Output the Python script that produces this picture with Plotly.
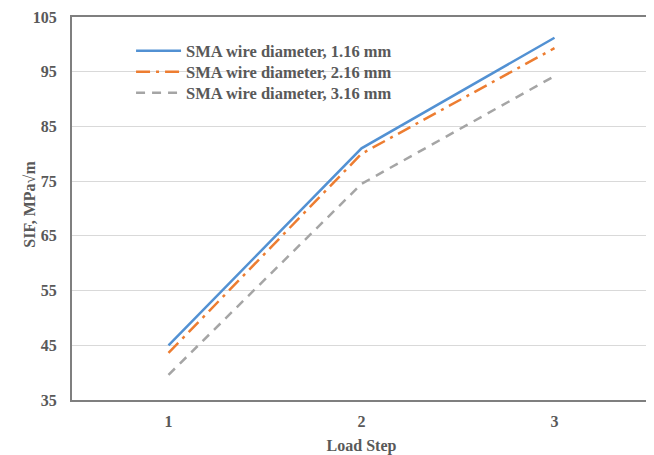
import plotly.graph_objects as go

load_steps = [1, 2, 3]
tick_labels = ["1", "2", "3"]
series_names = ["SMA wire diameter, 1.16 mm", "SMA wire diameter, 2.16 mm", "SMA wire diameter, 3.16 mm"]
sif_116 = [45.0, 81.0, 101.2]
sif_216 = [43.6, 80.0, 99.3]
sif_316 = [39.6, 74.5, 94.2]

colors = ["#5291D3", "#ED7D31", "#A5A5A5"]
dashes = ["solid", "14px,6px,3px,6px", "9px,7px"]
legend_ids = ["legend", "legend2", "legend3"]
legend_rows_y = [0.9112, 0.8564, 0.8016]

fig = go.Figure()
for name, vals, c, d, lg in zip(series_names, [sif_116, sif_216, sif_316], colors, dashes, legend_ids):
    fig.add_trace(go.Scatter(x=load_steps, y=vals, mode="lines", name="<b>%s</b>" % name,
                             legend=lg, line=dict(color=c, width=2.5, dash=d)))

legend_common = dict(x=0.102, xanchor="left", yanchor="middle", bgcolor="rgba(0,0,0,0)",
                     font=dict(family="Liberation Serif", size=16.5, color="#595959"),
                     itemwidth=45)

fig.update_layout(
    width=646, height=447,
    margin=dict(l=64, r=3, t=9, b=55, autoexpand=False),
    paper_bgcolor="white", plot_bgcolor="white",
    font=dict(family="Liberation Serif", size=16, color="#595959"),
    showlegend=True,
    legend=dict(y=legend_rows_y[0], **legend_common),
    legend2=dict(y=legend_rows_y[1], **legend_common),
    legend3=dict(y=legend_rows_y[2], **legend_common),
    xaxis=dict(range=[0.5, 3.5], tickvals=load_steps, ticktext=["<b>%s</b>" % t for t in tick_labels],
               showgrid=False, zeroline=False, ticks="", showline=True, linecolor="#7F7F7F",
               linewidth=2, mirror=True, automargin=False, ticklabelstandoff=6,
               title=dict(text="<b>Load Step</b>", standoff=12, font=dict(size=16)),
               tickfont=dict(size=16)),
    yaxis=dict(range=[35, 105], tickvals=list(range(35, 106, 10)),
               ticktext=["<b>%d</b>" % v for v in range(35, 106, 10)],
               showgrid=True, gridcolor="#D9D9D9", gridwidth=1, zeroline=False, ticks="",
               showline=True, linecolor="#7F7F7F", linewidth=2, mirror=True, automargin=False,
               ticklabelstandoff=10, tickfont=dict(size=16)),
    annotations=[dict(text="<b>SIF, MPa√m</b>", xref="paper", yref="paper", x=-0.0725, y=0.51,
                      xanchor="center", yanchor="middle", textangle=-90, showarrow=False,
                      font=dict(family="Liberation Serif", size=16, color="#595959"))],
)
fig.write_html("out.html")
